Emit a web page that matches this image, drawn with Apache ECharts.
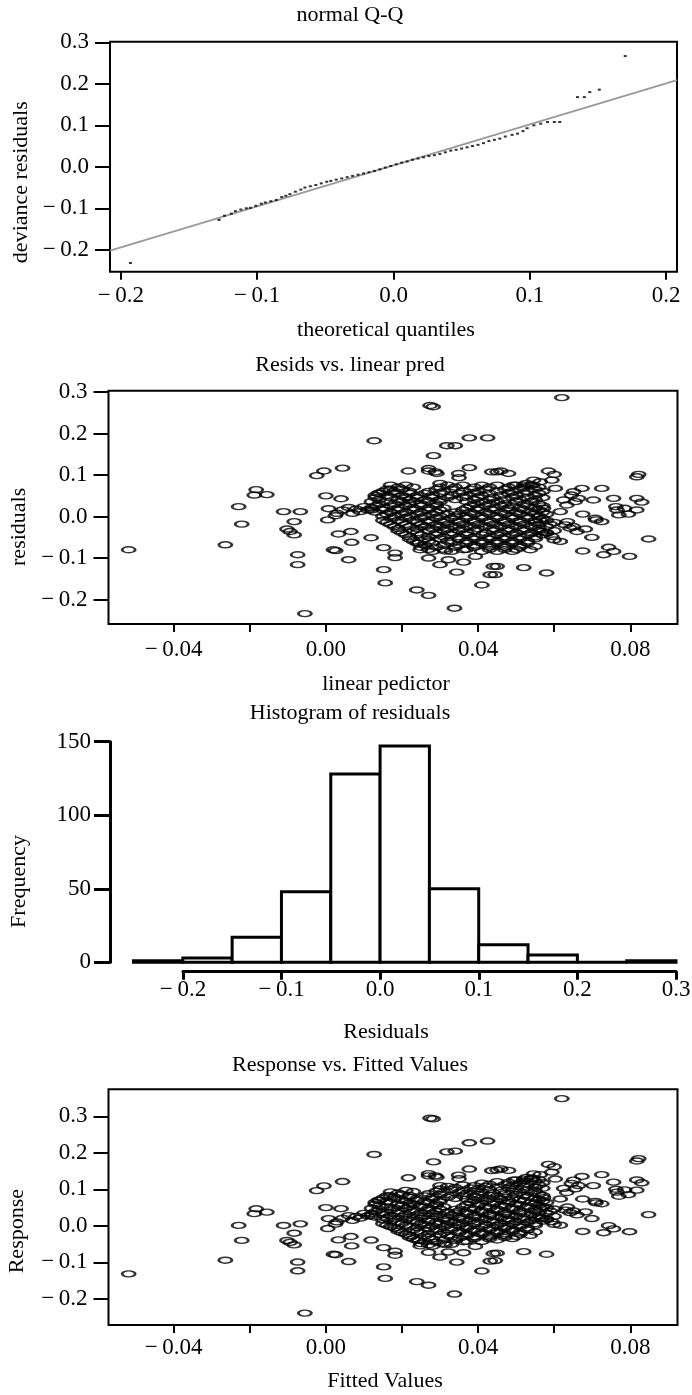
<!DOCTYPE html>
<html>
<head>
<meta charset="utf-8">
<script src="https://cdn.jsdelivr.net/npm/echarts@6/dist/echarts.min.js"></script>
<style>
html,body{margin:0;padding:0;background:#fff;}
#chart{width:692px;height:1395px;}
</style>
</head>
<body>
<div id="chart"></div>
<script>
// ---------- data ----------
// Panel 1: normal Q-Q (theoretical quantile, deviance residual)
const qqPoints = [
[-0.193,-0.232],[-0.128,-0.128],[-0.124,-0.118],[-0.119,-0.113],[-0.116,-0.107],[-0.112,-0.103],
[-0.108,-0.100],[-0.105,-0.099],[-0.101,-0.094],[-0.097,-0.089],[-0.094,-0.086],[-0.090,-0.083],
[-0.086,-0.080],[-0.082,-0.073],[-0.079,-0.070],[-0.076,-0.066],[-0.072,-0.060],[-0.068,-0.055],
[-0.065,-0.050],[-0.061,-0.047],[-0.057,-0.044],[-0.053,-0.040],[-0.049,-0.036],[-0.046,-0.034],
[-0.042,-0.031],[-0.038,-0.028],[-0.034,-0.025],[-0.030,-0.022],[-0.026,-0.019],[-0.022,-0.016],
[-0.018,-0.013],[-0.014,-0.010],[-0.010,-0.006],[-0.006,-0.002],[-0.002,0.002],[0.002,0.006],
[0.006,0.010],[0.010,0.013],[0.014,0.017],[0.018,0.020],[0.022,0.023],[0.026,0.026],
[0.030,0.028],[0.034,0.031],[0.038,0.035],[0.042,0.039],[0.046,0.041],[0.050,0.044],
[0.054,0.047],[0.058,0.050],[0.062,0.053],[0.066,0.057],[0.070,0.062],[0.074,0.065],
[0.078,0.068],[0.082,0.073],[0.087,0.077],[0.091,0.080],[0.095,0.086],[0.098,0.093],
[0.103,0.100],[0.108,0.104],[0.113,0.108],[0.118,0.108],[0.122,0.108],[0.135,0.168],
[0.140,0.168],[0.144,0.180],[0.151,0.186],[0.170,0.267]
];
const qqLine = [[-0.208,-0.202],[0.208,0.209]];

// Panels 2 & 4: (linear predictor, residual) — scattered points
const outerPoints = [
[-0.0518,-0.080],[-0.0264,-0.068],[-0.0229,0.024],[-0.0221,-0.018],[-0.0183,0.065],[-0.0188,0.052],
[-0.0155,0.053],[-0.0111,0.012],[-0.0067,0.012],[-0.0083,-0.012],[-0.0102,-0.030],[-0.0094,-0.036],
[-0.0083,-0.044],[-0.0074,-0.092],[-0.0074,-0.116],[-0.0055,-0.234],[-0.0024,0.099],[-0.0005,0.110],
[0.0000,0.050],[0.0044,0.117],[0.0040,0.043],[0.0007,0.019],[0.0029,0.008],[0.0005,-0.008],
[0.0044,0.016],[0.0025,0.002],[0.0033,-0.042],[0.0066,-0.036],[0.0068,-0.062],[0.0020,-0.080],
[0.0026,-0.082],[0.0060,-0.104],[0.0060,0.022],[0.0080,0.018],[0.0100,0.024],[0.0120,0.016],
[0.0090,0.012],[0.0070,0.008],
[0.0119,-0.051],[0.0138,0.056],[0.0169,0.066],[0.0152,-0.075],[0.0182,-0.088],[0.0182,-0.099],
[0.0152,-0.128],[0.0156,-0.160],[0.0239,-0.177],[0.0270,-0.190],[0.0338,-0.221],[0.0300,-0.116],
[0.0322,-0.104],[0.0362,-0.110],[0.0344,-0.134],[0.0410,-0.165],[0.0432,-0.140],[0.0440,-0.120],
[0.0393,-0.096],[0.0362,-0.080],[0.0314,-0.083],[0.0270,-0.100],[0.0248,-0.080],[0.0244,-0.064],
[0.0127,0.183],[0.0274,0.268],[0.0282,0.265],[0.0377,0.190],[0.0425,0.190],[0.0318,0.171],
[0.0340,0.171],[0.0283,0.147],[0.0217,0.110],[0.0270,0.110],[0.0292,0.104],[0.0377,0.118],
[0.0349,0.104],[0.0436,0.108],[0.0300,0.080],[0.0350,0.094],[0.0288,0.108],[0.0270,0.116],
[0.0620,0.287],[0.0585,0.110],[0.0600,0.102],[0.0822,0.102],[0.0817,0.096],[0.0673,0.068],
[0.0725,0.068],[0.0703,0.040],[0.0756,0.044],[0.0817,0.044],[0.0830,0.035],[0.0817,0.016],
[0.0765,0.016],[0.0770,0.004],[0.0762,0.024],[0.0785,0.020],[0.0795,0.006],[0.0675,0.006],
[0.0708,-0.004],[0.0725,-0.012],[0.0710,-0.008],[0.0682,-0.030],[0.0699,-0.050],[0.0848,-0.054],
[0.0743,-0.074],[0.0730,-0.092],[0.0756,-0.084],[0.0798,-0.096],[0.0675,-0.083],[0.0580,-0.136],
[0.0520,-0.123],[0.0450,-0.120],[0.0445,-0.140],[0.0550,-0.072],[0.0537,-0.080],[0.0616,-0.060],
[0.0629,-0.020],[0.0642,-0.028],[0.0660,-0.036],[0.0635,-0.012],[0.0650,-0.024],[0.0568,-0.036],
[0.0594,-0.048],[0.0580,-0.040],[0.0600,-0.056],[0.0616,0.012],[0.0633,0.028],[0.0651,0.060],
[0.0664,0.044],[0.0625,0.040],[0.0645,0.052],[0.0655,0.036],[0.0594,0.088],[0.0603,0.068],
[0.0563,0.084],[0.0572,0.020],[0.0563,-0.008],[0.0493,0.076],[0.0520,0.076],[0.0546,0.088],
[0.0450,0.108],[0.0460,0.110],[0.0480,0.104],[0.0527,0.080],[0.0544,0.076]
];
// dense core of the cloud, estimated row by row: residual level and the linear predictors on it
const coreRowResid = [0.076,0.071,0.066,0.061,0.056,0.051,0.046,0.041,0.036,0.031,0.026,0.021,0.016,0.011,0.006,0.001,
  -0.004,-0.009,-0.014,-0.019,-0.024,-0.029,-0.034,-0.039,-0.044,-0.049,-0.054,-0.059,-0.064,-0.069,-0.074,-0.079,-0.084];
const coreRowPred = [
[0.017,0.021,0.032,0.036,0.041,0.045,0.050,0.054],
[0.019,0.023,0.030,0.034,0.039,0.043,0.048,0.052,0.056],
[0.016,0.020,0.029,0.033,0.038,0.042,0.047,0.051,0.055],
[0.015,0.018,0.022,0.027,0.031,0.036,0.040,0.045,0.049,0.053,0.057],
[0.014,0.018,0.022,0.026,0.030,0.035,0.039,0.043,0.048,0.052,0.056],
[0.013,0.016,0.020,0.024,0.028,0.033,0.037,0.041,0.046,0.050,0.055],
[0.013,0.017,0.021,0.024,0.028,0.032,0.036,0.040,0.044,0.049,0.053,0.057],
[0.014,0.019,0.022,0.026,0.030,0.034,0.039,0.043,0.047,0.051,0.055],
[0.012,0.016,0.020,0.023,0.027,0.030,0.037,0.041,0.045,0.050,0.054],
[0.014,0.018,0.022,0.025,0.029,0.039,0.043,0.047,0.052,0.056],
[0.013,0.017,0.021,0.025,0.029,0.038,0.042,0.046,0.049,0.053,0.057],
[0.012,0.015,0.019,0.023,0.027,0.031,0.037,0.040,0.044,0.048,0.051,0.055],
[0.011,0.015,0.019,0.023,0.027,0.030,0.036,0.040,0.044,0.048,0.052,0.056],
[0.013,0.017,0.021,0.025,0.029,0.034,0.038,0.042,0.046,0.050,0.054,0.057],
[0.016,0.020,0.024,0.028,0.032,0.035,0.039,0.043,0.047,0.051,0.055,0.058],
[0.015,0.018,0.022,0.026,0.030,0.034,0.037,0.041,0.045,0.049,0.053,0.056],
[0.017,0.021,0.025,0.029,0.033,0.037,0.041,0.045,0.049,0.053,0.057],
[0.015,0.019,0.023,0.027,0.031,0.035,0.039,0.043,0.047,0.051,0.055,0.058],
[0.016,0.020,0.024,0.027,0.031,0.035,0.039,0.043,0.047,0.051,0.055,0.060],
[0.017,0.021,0.025,0.029,0.032,0.036,0.040,0.044,0.048,0.052,0.056,0.059],
[0.018,0.022,0.026,0.030,0.034,0.038,0.042,0.046,0.050,0.054,0.058],
[0.019,0.024,0.028,0.032,0.036,0.040,0.044,0.048,0.052,0.056],
[0.019,0.023,0.027,0.031,0.035,0.039,0.044,0.048,0.052,0.056,0.060],
[0.020,0.024,0.029,0.033,0.037,0.042,0.046,0.050,0.054,0.058],
[0.021,0.025,0.029,0.033,0.037,0.041,0.045,0.049,0.053,0.057],
[0.022,0.027,0.031,0.035,0.039,0.043,0.047,0.051,0.055],
[0.022,0.026,0.030,0.035,0.039,0.043,0.047,0.051,0.055],
[0.023,0.027,0.032,0.037,0.041,0.045,0.049,0.053],
[0.024,0.028,0.033,0.037,0.041,0.045,0.049,0.053],
[0.026,0.031,0.035,0.039,0.043,0.047,0.051],
[0.025,0.029,0.034,0.039,0.043,0.047,0.051],
[0.027,0.031,0.037,0.043,0.047,0.050],
[0.028,0.033,0.041,0.045,0.049]
];

// Panel 3: histogram of residuals
const histBreaks = [-0.25,-0.2,-0.15,-0.1,-0.05,0,0.05,0.1,0.15,0.2,0.25,0.3];
const histCounts = [1,3,17,48,128,147,50,12,5,0,1];

// tick values
const qqXTicks = [-0.2,-0.1,0,0.1,0.2];
const qqYTicks = [-0.2,-0.1,0,0.1,0.2,0.3];
const predLabelTicks = [-0.04,0,0.04,0.08];
const predTicks = [-0.04,-0.02,0,0.02,0.04,0.06,0.08];
const residYTicks = [-0.2,-0.1,0,0.1,0.2,0.3];
const respYTicks = [-0.2,-0.1,0,0.1,0.2,0.3];

// ---------- build ----------
const residPoints = outerPoints.slice();
coreRowResid.forEach((r, i) => coreRowPred[i].forEach(x => residPoints.push([x, r])));
// identity-link model: response = fitted value + residual
const responsePoints = residPoints.map(p => [p[0], +(p[0] + p[1]).toFixed(4)]);
const histData = histCounts.map((c, i) => [histBreaks[i], histBreaks[i + 1], c]);

const FONT = 'Liberation Serif, Times New Roman, serif';
const FS = 22;
const fmt = d => v => (v < -1e-9 ? '\u2212\u2009' + (-v).toFixed(d) : Math.abs(v).toFixed(d));
const txt = {fontFamily: FONT, fontSize: FS, color: '#000'};
const tickTxt = {fontFamily: FONT, fontSize: 23, color: '#000'};
const ELLIPSE = 'path://M0,4A8,4,0,1,1,16,4A8,4,0,1,1,0,4Z';

function boxX(grid, min, max, labelTicks, tickVals, d, name, margin, gap, padR) {
  return {
    gridIndex: grid, type: 'value', min: min, max: max,
    splitLine: {show: false}, axisLine: {show: false, onZero: false},
    axisTick: {show: true, customValues: tickVals, length: 8, lineStyle: {color: '#000', width: 2}},
    axisLabel: Object.assign({customValues: labelTicks, formatter: fmt(d), margin: margin}, tickTxt),
    name: name, nameLocation: 'middle', nameGap: gap,
    nameTextStyle: Object.assign({padding: [0, padR, 0, 0]}, txt)
  };
}
function boxY(grid, min, max, ticks, d, name, gap, padR) {
  return {
    gridIndex: grid, type: 'value', min: min, max: max,
    splitLine: {show: false}, axisLine: {show: false, onZero: false},
    axisTick: {show: true, customValues: ticks, length: 15, lineStyle: {color: '#000', width: 2}},
    axisLabel: Object.assign({customValues: ticks, formatter: fmt(d), margin: 21}, tickTxt),
    name: name, nameLocation: 'middle', nameGap: gap, nameRotate: 90,
    nameTextStyle: Object.assign({padding: [0, padR, 0, 0]}, txt)
  };
}
const boxGrid = (l, t, w, h) => ({left: l, top: t, width: w, height: h, show: true, borderColor: '#000', borderWidth: 2, backgroundColor: 'transparent', containLabel: false, outerBoundsMode: 'none'});
const plainGrid = (l, t, w, h) => ({left: l, top: t, width: w, height: h, show: false, containLabel: false, outerBoundsMode: 'none'});

const titleText = (t, y) => ({type: 'text', x: 350, y: y, silent: true,
  style: {text: t, fontFamily: FONT, fontSize: FS, fill: '#000', align: 'center', verticalAlign: 'middle', textAlign: 'center', textVerticalAlign: 'middle'}});

const option = {
  animation: false,
  backgroundColor: '#fff',
  grid: [
    boxGrid(110, 41.7, 567, 230),
    boxGrid(108.5, 390.7, 569, 233.3),
    plainGrid(133.5, 741.7, 542.5, 220.6),
    plainGrid(183, 741.7, 493, 220.6),
    boxGrid(108.5, 1089.3, 569, 235.7)
  ],
  xAxis: [
    boxX(0, -0.208, 0.208, qqXTicks, qqXTicks, 1, 'theoretical quantiles', 13, 48, 15),
    boxX(1, -0.0571, 0.0924, predLabelTicks, predTicks, 2, 'linear pedictor', 14, 49, 14),
    {gridIndex: 2, type: 'value', min: -0.25, max: 0.3, show: false, axisLine: {onZero: false}},
    {gridIndex: 3, type: 'value', min: -0.2, max: 0.3, interval: 0.1, offset: 9.4, position: 'bottom',
      splitLine: {show: false},
      axisLine: {show: true, onZero: false, lineStyle: {color: '#000', width: 3}},
      axisTick: {show: true, length: 8, lineStyle: {color: '#000', width: 3}},
      axisLabel: Object.assign({formatter: fmt(1), margin: 7}, tickTxt),
      name: 'Residuals', nameLocation: 'middle', nameGap: 50,
      nameTextStyle: Object.assign({padding: [0, 87, 0, 0]}, txt)},
    boxX(4, -0.0571, 0.0924, predLabelTicks, predTicks, 2, 'Fitted Values', 11, 45, 16)
  ],
  yAxis: [
    boxY(0, -0.2529, 0.3016, qqYTicks, 1, 'deviance residuals', 78, 51),
    boxY(1, -0.2591, 0.3037, residYTicks, 1, 'residuals', 78, 39),
    {gridIndex: 2, type: 'value', min: 0, max: 150, interval: 50, offset: 23.5, position: 'left',
      splitLine: {show: false},
      axisLine: {show: true, onZero: false, lineStyle: {color: '#000', width: 3}},
      axisTick: {show: true, length: 16, lineStyle: {color: '#000', width: 3}},
      axisLabel: Object.assign({formatter: v => String(v), margin: 19}, tickTxt),
      name: 'Frequency', nameLocation: 'middle', nameGap: 80, nameRotate: 90,
      nameTextStyle: Object.assign({padding: [0, 59, 0, 0]}, txt)},
    {gridIndex: 3, type: 'value', min: 0, max: 150, show: false, axisLine: {onZero: false}},
    boxY(4, -0.2721, 0.3744, respYTicks, 1, 'Response', 80, 48)
  ],
  series: [
    {type: 'line', xAxisIndex: 0, yAxisIndex: 0, data: qqLine, showSymbol: false, symbol: 'none',
      lineStyle: {color: '#9a9a9a', width: 2}, z: 1, silent: true},
    {type: 'scatter', xAxisIndex: 0, yAxisIndex: 0, data: qqPoints, symbol: 'rect', symbolSize: [3, 2],
      itemStyle: {color: '#000'}, z: 2, silent: true},
    {type: 'scatter', xAxisIndex: 1, yAxisIndex: 1, data: residPoints, symbol: ELLIPSE, symbolSize: [13, 6],
      itemStyle: {color: 'rgba(0,0,0,0)', borderColor: '#000', borderWidth: 2}, silent: true, emphasis: {disabled: true}},
    {type: 'custom', xAxisIndex: 2, yAxisIndex: 2, data: histData, silent: true,
      encode: {x: [0, 1], y: 2},
      renderItem: function (params, api) {
        const p0 = api.coord([api.value(0), 0]);
        const p1 = api.coord([api.value(1), api.value(2)]);
        return {type: 'rect', shape: {x: p0[0], y: p1[1], width: p1[0] - p0[0], height: p0[1] - p1[1]},
          style: {fill: '#fff', stroke: '#000', lineWidth: 3}};
      }},
    {type: 'scatter', xAxisIndex: 4, yAxisIndex: 4, data: responsePoints, symbol: ELLIPSE, symbolSize: [13, 6],
      itemStyle: {color: 'rgba(0,0,0,0)', borderColor: '#000', borderWidth: 2}, silent: true, emphasis: {disabled: true}}
  ],
  graphic: [
    titleText('normal Q-Q', 15),
    titleText('Resids vs. linear pred', 365),
    titleText('Histogram of residuals', 713),
    titleText('Response vs. Fitted Values', 1065)
  ]
};
const chart = echarts.init(document.getElementById('chart'), null, {renderer: 'canvas'});
chart.setOption(option);
</script>
</body>
</html>
